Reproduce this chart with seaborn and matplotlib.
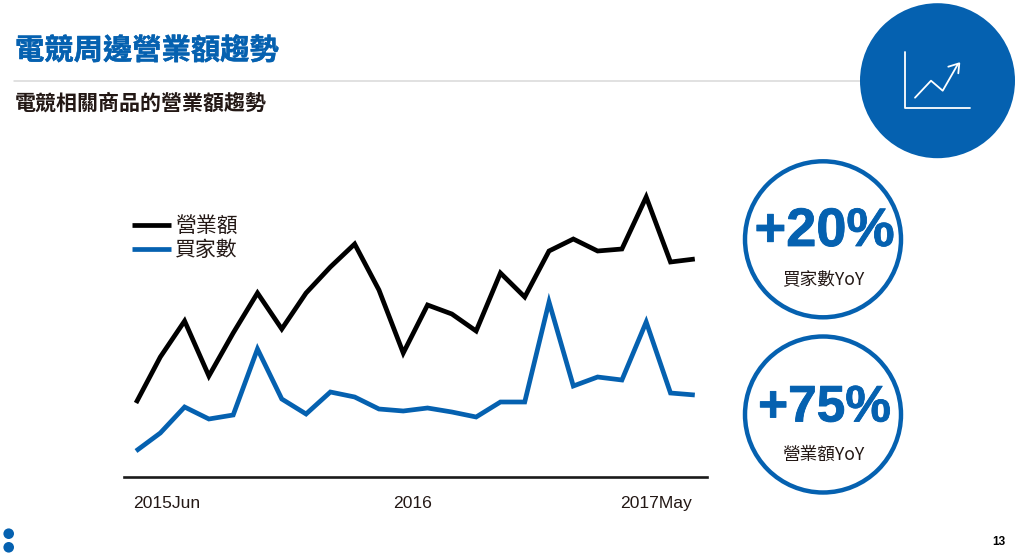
import pandas as pd
import matplotlib
matplotlib.use('Agg')
import matplotlib.pyplot as plt
import matplotlib.patheffects as pe
from matplotlib.patches import Circle
import seaborn as sns

# values (height above the baseline, no unit on the original)
months = list(range(24))
revenue = [74, 120, 156, 101, 144, 184, 148, 184, 210, 233, 187, 124,
           172, 163, 146, 204, 180, 226, 238, 226, 228, 280, 215, 218]
buyers = [26, 44, 70, 58, 62, 128, 78, 63, 85, 80, 68, 66,
          69, 65, 60, 75, 75, 175, 91, 100, 97, 155, 84, 82]

tick_pos = [1.25, 11.38, 21.4]
tick_labels = ['2015Jun', '2016', '2017May']
series_names = ['營業額', '買家數']

BLUE = '#0561B0'
INK = '#231815'
W, H = 1024, 558

sns.set_theme(style='white')
plt.rcParams['font.family'] = ['Liberation Sans', 'Noto Sans CJK TC']

df = pd.DataFrame({
    'month': months * 2,
    'value': revenue + buyers,
    'series': [series_names[0]] * 24 + [series_names[1]] * 24,
})

fig = plt.figure(figsize=(10.24, 5.58), dpi=100)

# main chart
ax = fig.add_axes([124 / W, 1 - 477 / H, (706.7 - 124) / W, (477 - 180) / H])
sns.lineplot(data=df, x='month', y='value', hue='series',
             palette=['black', BLUE], linewidth=3.4, ax=ax,
             solid_joinstyle='miter', solid_capstyle='butt')
ax.set_xlim(-0.494, 23.49)
ax.set_ylim(0, 297)
ax.set_xlabel('')
ax.set_ylabel('')
ax.set_yticks([])
ax.set_xticks(tick_pos, tick_labels, fontsize=12.6, color=INK)
ax.tick_params(axis='x', length=0, pad=14)
sns.despine(ax=ax, left=True)
ax.spines['bottom'].set_linewidth(1.9)
ax.spines['bottom'].set_color('#1a1a1a')
ax.patch.set_alpha(0)

leg = ax.legend(loc='upper left', bbox_to_anchor=(0.0137, 0.878), frameon=False,
                fontsize=15, handlelength=1.85, handletextpad=0.2,
                labelspacing=0.22, borderaxespad=0, borderpad=0)
for t in leg.get_texts():
    t.set_color(INK)

# slide decoration, in pixel coordinates
deco = fig.add_axes([0, 0, 1, 1], zorder=-1)
deco.set_xlim(0, W)
deco.set_ylim(H, 0)
deco.axis('off')
over = fig.add_axes([0, 0, 1, 1], zorder=5)
over.set_xlim(0, W)
over.set_ylim(H, 0)
over.axis('off')
over.patch.set_alpha(0)

title = over.text(15, 50.5, '電競周邊營業額趨勢', fontsize=21.1, fontweight='bold', color=BLUE,
                  va='center', family=['Noto Sans CJK TC'])
title.set_path_effects([pe.withStroke(linewidth=0.3, foreground=BLUE)])
deco.plot([14, 870], [81, 81], color='#d9d9d9', lw=1.1)
over.text(15, 103, '電競相關商品的營業額趨勢', fontsize=15.1, fontweight='bold', color=INK,
          va='center', family=['Noto Sans CJK TC'])

# icon badge
over.add_patch(Circle((937.5, 80.7), 77.5, color=BLUE, lw=0))
over.plot([905.3, 905.3, 970], [52, 108.3, 108.3], color='white', lw=1.3)
over.plot([915, 931, 942.7, 958], [97.7, 80.7, 90.7, 64], color='white', lw=1.3)
over.plot([948.3, 959.3, 958.3], [66.7, 63.3, 73.3], color='white', lw=1.3)

# YoY badges
badges = [(823, 239.3, '+20%', '買家數YoY', 232, 39, 280),
          (823, 414.5, '+75%', '營業額YoY', 408, 37, 455)]
for cx, cy, big, small, big_y, big_size, small_y in badges:
    over.add_patch(Circle((cx, cy), 78, fill=False, edgecolor=BLUE, lw=3.2))
    t = over.text(cx + 1.5, big_y, big, fontsize=big_size,
                  fontweight='bold', color=BLUE, ha='center', va='center')
    t.set_path_effects([pe.withStroke(linewidth=0.6, foreground=BLUE)])
    over.text(cx, small_y, small, fontsize=12.7, fontweight='medium', color=INK,
              ha='center', va='center', family=['Noto Sans CJK TC'])

# footer
over.add_patch(Circle((8.7, 533.7), 5.3, color=BLUE, lw=0))
over.add_patch(Circle((8.7, 547.3), 5.3, color=BLUE, lw=0))
over.text(999, 542, '13', fontsize=8.5, fontweight='bold', color='black',
          ha='center', va='center')

fig.savefig('out.png', dpi=100)
